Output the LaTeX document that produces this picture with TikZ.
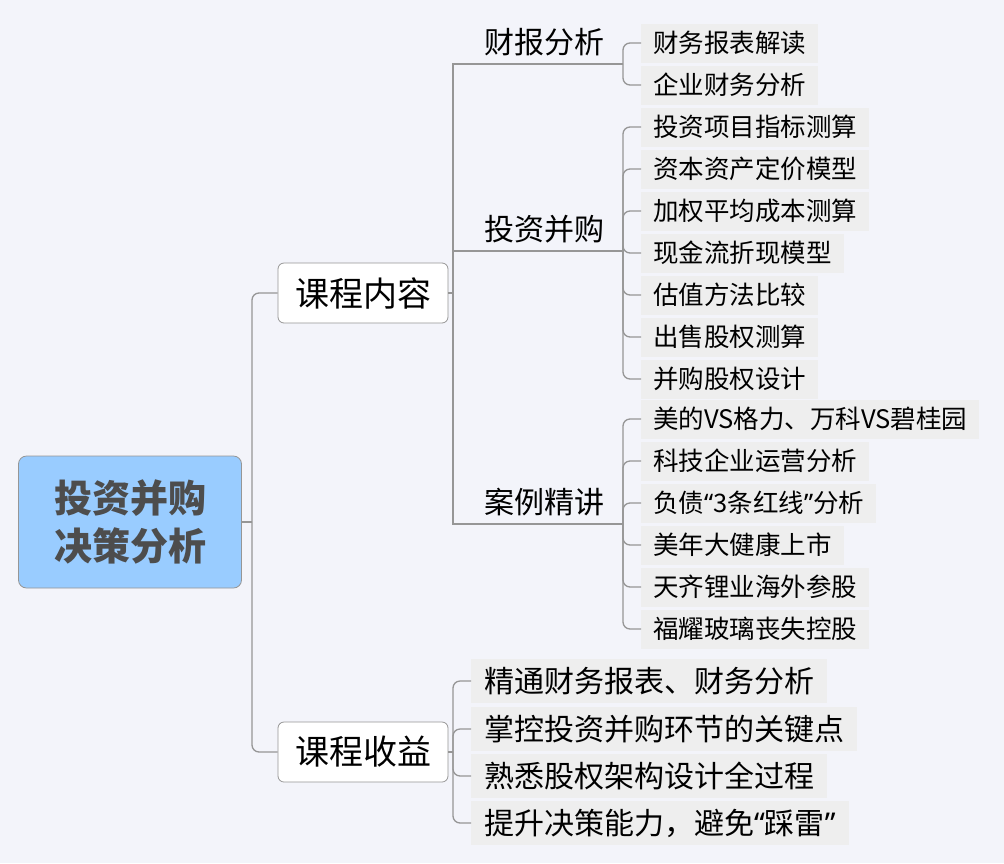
\documentclass[tikz,border=0pt]{standalone}
\usepackage{fontspec}
\setmainfont{Noto Sans CJK SC}
\newfontfamily\qtfont{Noto Sans}
\newcommand{\qopen}{{\qtfont “}}
\newcommand{\qclose}{{\qtfont ”}}
\definecolor{bgcol}{RGB}{243,244,250}
\definecolor{leafgray}{RGB}{238,238,238}
\definecolor{rootblue}{RGB}{153,204,255}
\definecolor{linegray}{RGB}{150,150,150}
\definecolor{roottext}{RGB}{77,77,77}
\tikzset{
	rootbox/.style = {rectangle, rounded corners = 8pt, minimum width = 223pt, minimum height = 132pt, align = center, draw = linegray, thick, fill = rootblue, text = roottext, font = \bfseries\fontsize{38}{48}\selectfont},
	topicbox/.style = {rectangle, rounded corners = 6pt, minimum width = 170pt, minimum height = 60pt, text centered, draw = linegray, thick, fill = white, font = \fontsize{34}{40}\selectfont},
	sublbl/.style = {inner sep = 0pt, font = \fontsize{30}{36}\selectfont},
	leafbox/.style = {rectangle, anchor = west, minimum height = 39pt, inner xsep = 12pt, fill = leafgray, font = \fontsize{25.5}{30}\selectfont},
	gainbox/.style = {leafbox, minimum height = 44pt, inner xsep = 13pt, font = \fontsize{30}{36}\selectfont},
	conn/.style = {draw = linegray, line width = 1.3pt},
	elbow/.style = {conn, rounded corners = 7pt}
}

\begin{document}
\begin{tikzpicture}[x = 1pt, y = -1pt]
	
	\fill [bgcol] (0,0) rectangle (1004,863);
	\useasboundingbox (0,0) rectangle (1004,863);
	
	%% nodes
	\node (root) [rootbox] at (130,522) {投资并购\\决策分析};
	\node (content) [topicbox] at (363,293) {课程内容};
	\node (gain) [topicbox] at (363,752) {课程收益};
	
	\node (finlbl) [sublbl] at (544,42) {财报分析};
	\node (invlbl) [sublbl] at (544,229) {投资并购};
	\node (caselbl) [sublbl] at (544,502) {案例精讲};
	
	%% leaves
	\node (f1) [leafbox] at (641,43) {财务报表解读};
	\node (f2) [leafbox] at (641,85) {企业财务分析};
	
	\node (i1) [leafbox] at (641,127) {投资项目指标测算};
	\node (i2) [leafbox] at (641,169) {资本资产定价模型};
	\node (i3) [leafbox] at (641,211) {加权平均成本测算};
	\node (i4) [leafbox] at (641,253) {现金流折现模型};
	\node (i5) [leafbox] at (641,295) {估值方法比较};
	\node (i6) [leafbox] at (641,337) {出售股权测算};
	\node (i7) [leafbox] at (641,379) {并购股权设计};
	
	\node (c1) [leafbox] at (641,419) {美的VS格力、万科VS碧桂园};
	\node (c2) [leafbox] at (641,461) {科技企业运营分析};
	\node (c3) [leafbox] at (641,503) {负债\qopen 3条红线\qclose 分析};
	\node (c4) [leafbox] at (641,545) {美年大健康上市};
	\node (c5) [leafbox] at (641,587) {天齐锂业海外参股};
	\node (c6) [leafbox] at (641,629) {福耀玻璃丧失控股};
	
	\node (g1) [gainbox] at (471,681) {精通财务报表、财务分析};
	\node (g2) [gainbox] at (471,729) {掌控投资并购环节的关键点};
	\node (g3) [gainbox] at (471,776) {熟悉股权架构设计全过程};
	\node (g4) [gainbox] at (471,823) {提升决策能力，避免\qopen 踩雷\qclose};
	
	%% joints
	\coordinate (rtrunk) at (252,522);
	\coordinate (ctrunk) at (453,293);
	\coordinate (gtrunk) at (453,752);
	\coordinate (fin) at (623,64);
	\coordinate (inv) at (623,251);
	\coordinate (case) at (623,524);
	
	%% arrows
	\draw [conn] (root.east) -- (rtrunk);
	\draw [elbow] (rtrunk) |- (content.west);
	\draw [elbow] (rtrunk) |- (gain.west);
	
	\draw [conn] (content.east) -- (ctrunk);
	\draw [conn] (ctrunk) |- (fin);
	\draw [conn] (ctrunk) |- (inv);
	\draw [conn] (ctrunk) |- (case);
	
	\draw [elbow] (fin) |- (f1.west);
	\draw [elbow] (fin) |- (f2.west);
	
	\draw [elbow] (inv) |- (i1.west);
	\draw [elbow] (inv) |- (i2.west);
	\draw [elbow] (inv) |- (i3.west);
	\draw [elbow] (inv) |- (i4.west);
	\draw [elbow] (inv) |- (i5.west);
	\draw [elbow] (inv) |- (i6.west);
	\draw [elbow] (inv) |- (i7.west);
	
	\draw [elbow] (case) |- (c1.west);
	\draw [elbow] (case) |- (c2.west);
	\draw [elbow] (case) |- (c3.west);
	\draw [elbow] (case) |- (c4.west);
	\draw [elbow] (case) |- (c5.west);
	\draw [elbow] (case) |- (c6.west);
	
	\draw [conn] (gain.east) -- (gtrunk);
	\draw [elbow] (gtrunk) |- (g1.west);
	\draw [elbow] (gtrunk) |- (g2.west);
	\draw [elbow] (gtrunk) |- (g3.west);
	\draw [elbow] (gtrunk) |- (g4.west);
	
\end{tikzpicture}
\end{document}
